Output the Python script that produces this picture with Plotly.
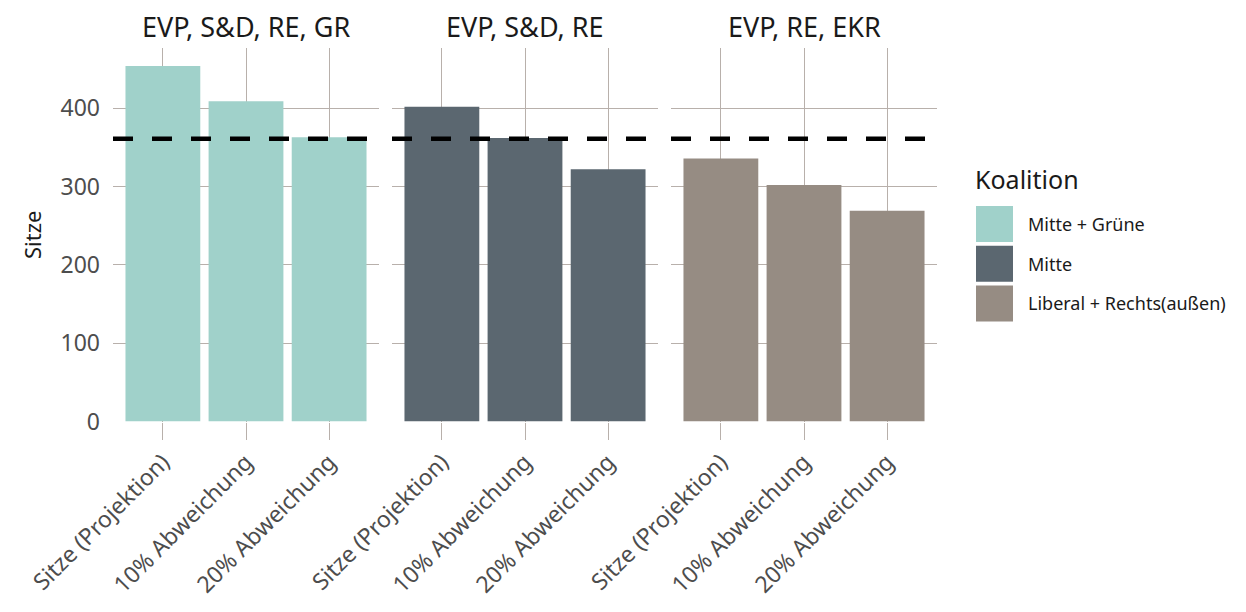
import plotly.graph_objects as go

# ---- data ----
coalitions = ["Mitte + Grüne", "Mitte", "Liberal + Rechts(außen)"]
panel_titles = ["EVP, S&D, RE, GR", "EVP, S&D, RE", "EVP, RE, EKR"]
scenarios = ["Sitze (Projektion)", "10% Abweichung", "20% Abweichung"]
seats_mitte_gruene = [454, 409, 363]
seats_mitte = [402, 362, 322]
seats_liberal_rechts = [336, 302, 269]
majority = 361
y_tick_vals = [0, 100, 200, 300, 400]
y_title = "Sitze"
legend_title = "Koalition"

series = [seats_mitte_gruene, seats_mitte, seats_liberal_rechts]
colors = ["#A0D1CA", "#5B6770", "#968C83"]

W, H = 1246, 612
OFF = 8  # page body margin
FONT = "Noto Sans"
GRID = "#B8B0AB"
TICKTXT = "#4D4D4D"

panel_px = [(113, 379), (392, 658), (671, 937)]
y_top_px, y_bot_px = 48, 421.5


def px_x(v):
    return (v - OFF) / W


def px_y(v):
    return 1 - (v - OFF) / H


fig = go.Figure()

for i, (vals, col, name) in enumerate(zip(series, colors, coalitions)):
    suffix = "" if i == 0 else str(i + 1)
    fig.add_trace(go.Bar(
        x=scenarios, y=vals, name=name,
        marker=dict(color=col, line=dict(width=0)),
        width=0.9, showlegend=False,
        xaxis="x" + suffix, yaxis="y" + suffix,
    ))

layout = dict(
    width=W, height=H,
    margin=dict(l=0, r=0, t=0, b=0),
    paper_bgcolor="white", plot_bgcolor="white",
    font=dict(family=FONT, color=TICKTXT),
    showlegend=False,
)

for i, (x0, x1) in enumerate(panel_px):
    suffix = "" if i == 0 else str(i + 1)
    layout["xaxis" + suffix] = dict(
        domain=[px_x(x0), px_x(x1)],
        anchor="y" + suffix,
        type="category",
        range=[-0.6, 2.6],
        showgrid=True, gridcolor=GRID, gridwidth=1,
        ticks="outside", ticklen=17, tickcolor=GRID, tickwidth=1,
        tickangle=-45,
        tickfont=dict(family=FONT, size=23, color=TICKTXT),
        showline=False, zeroline=False, automargin=False,
    )
    ya = dict(
        domain=[px_y(y_bot_px), px_y(y_top_px)],
        anchor="x" + suffix,
        range=[0, 477],
        tickvals=y_tick_vals,
        showgrid=True, gridcolor=GRID, gridwidth=1,
        zeroline=False, showline=False, automargin=False,
        showticklabels=(i == 0),
        tickfont=dict(family=FONT, size=23, color=TICKTXT),
        ticklabelstandoff=12,
    )
    if i == 0:
        ya["title"] = dict(text=y_title, font=dict(family=FONT, size=22, color="#1A1A1A"), standoff=12)
    else:
        ya["matches"] = "y"
    layout["yaxis" + suffix] = ya

fig.update_layout(**layout)

# majority line per panel
for i in range(3):
    suffix = "" if i == 0 else str(i + 1)
    fig.add_shape(
        type="line", xref="x" + suffix + " domain", yref="y" + suffix,
        x0=0, x1=1, y0=majority, y1=majority,
        line=dict(color="black", width=4.5, dash="20px,19px"), layer="above",
    )

# facet titles
for (x0, x1), t in zip(panel_px, panel_titles):
    fig.add_annotation(
        text=t, xref="paper", yref="paper",
        x=px_x((x0 + x1) / 2), y=px_y(26),
        xanchor="center", yanchor="middle", showarrow=False,
        font=dict(family=FONT, size=27, color="#1A1A1A"),
    )

# legend (custom, large swatches)
fig.add_annotation(
    text=legend_title, xref="paper", yref="paper",
    x=px_x(973), y=px_y(179), xanchor="left", yanchor="middle",
    showarrow=False, font=dict(family=FONT, size=25, color="#1A1A1A"),
)
for k, (name, col) in enumerate(zip(coalitions, colors)):
    top = 206 + k * 39.7
    fig.add_shape(
        type="rect", xref="paper", yref="paper",
        x0=px_x(976), x1=px_x(1013), y0=px_y(top + 36), y1=px_y(top),
        fillcolor=col, line=dict(width=0),
    )
    fig.add_annotation(
        text=name, xref="paper", yref="paper",
        x=px_x(1026), y=px_y(top + 18), xanchor="left", yanchor="middle",
        showarrow=False, font=dict(family=FONT, size=18, color="#1A1A1A"),
    )

fig.write_html("out.html")
